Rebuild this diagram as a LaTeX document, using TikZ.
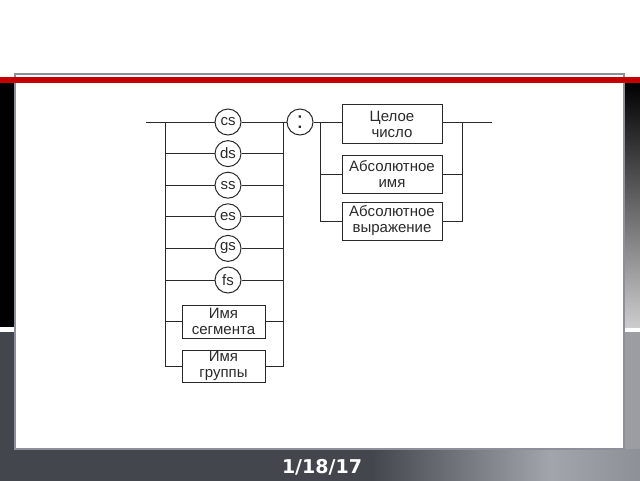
\documentclass[tikz,border=0pt]{standalone}
\usepackage{fontspec}
\setmainfont{Liberation Sans}
\newfontfamily\datefont{DejaVu Sans}
\usetikzlibrary{calc,positioning}
\definecolor{redband}{HTML}{C40000}
\definecolor{darkbar}{HTML}{44464E}
\definecolor{lightbar}{HTML}{A3A5AC}
\definecolor{edgebar}{HTML}{8E9098}
\definecolor{boxedge}{HTML}{8C909C}
\definecolor{ink}{HTML}{2A2A2A}
\pgfdeclarehorizontalshading{barshade}{100bp}{color(0bp)=(darkbar); color(54bp)=(darkbar); color(68bp)=(lightbar); color(75bp)=(edgebar); color(100bp)=(edgebar)}
\tikzset{
  term/.style={circle,draw=ink,line width=1pt,minimum size=26pt,inner sep=0pt,text=ink,font=\fontsize{15}{16}\selectfont},
  nterm/.style={rectangle,draw=ink,line width=1pt,align=center,inner sep=1pt,text=ink,font=\fontsize{15}{16}\selectfont},
  wire/.style={draw=ink,line width=1pt}
}
\begin{document}
\begin{tikzpicture}[x=1pt,y=-1pt]
\useasboundingbox (0,0) rectangle (640,480);
% slide frame
\fill[white] (0,0) rectangle (640,480);
\fill[black] (0,83) rectangle (15,327);
\shade[top color=black,bottom color=gray!40] (624,83) rectangle (640,327);
\fill[darkbar] (0,332) rectangle (15,449);
\fill[lightbar!95!black] (624,332) rectangle (640,449);
\shade[shading=barshade] (0,449) rectangle (640,480);
\filldraw[fill=white,draw=boxedge,line width=1.2pt] (15,74) rectangle (624,449);
\fill[redband] (0,77) rectangle (640,83);
\node[text=white,anchor=base,font=\datefont\bfseries\fontsize{19}{19}\selectfont] (date) at (322,473) {1/18/17};
% segment part
\coordinate (in) at (146,122);
\coordinate (lb) at (165,122);
\coordinate (rb) at (283,122);
\foreach \s [count=\i from 0] in {cs,ds,ss,es,gs,fs}
  \node[term] (\s) at (228,{122+31.6*\i}) {\s};
\node[nterm,minimum width=83pt,minimum height=33pt] (seg) at (223.5,321.5) {Имя\\сегмента};
\node[nterm,minimum width=83pt,minimum height=32pt] (grp) at (223.5,366) {Имя\\группы};
\node[term,font=\fontsize{24}{24}\selectfont] (colon) at (300,122) {:};
% offset part
\node[nterm,minimum width=100pt,minimum height=39pt] (int) at (392,124) {Целое\\число};
\node[nterm,minimum width=100pt,minimum height=38pt] (absname) at (392,174) {Абсолютное\\имя};
\node[nterm,minimum width=100pt,minimum height=38pt] (absexpr) at (392,221) {Абсолютное\\выражение};
\coordinate (cj) at (320,122);
\coordinate (ej) at (462,122);
\coordinate (out) at (492,122);
% wires
\draw[wire] (in) -- (cs.west) (cs.east) -- (colon.west) (colon.east) -- (colon.east -| int.west);
\draw[wire] (lb) -- (lb |- grp.west) -- (grp.west);
\draw[wire] (rb) -- (rb |- grp.east) -- (grp.east);
\foreach \s in {ds,ss,es,gs,fs,seg}
  \draw[wire] (lb |- \s.west) -- (\s.west) (\s.east) -- (rb |- \s.east);
\draw[wire] (cj) -- (cj |- absexpr.west) -- (absexpr.west) (cj |- absname.west) -- (absname.west);
\draw[wire] (int.east |- ej) -- (out) (ej) -- (ej |- absexpr.east) -- (absexpr.east) (absname.east) -- (ej |- absname.east);
\end{tikzpicture}
\end{document}
